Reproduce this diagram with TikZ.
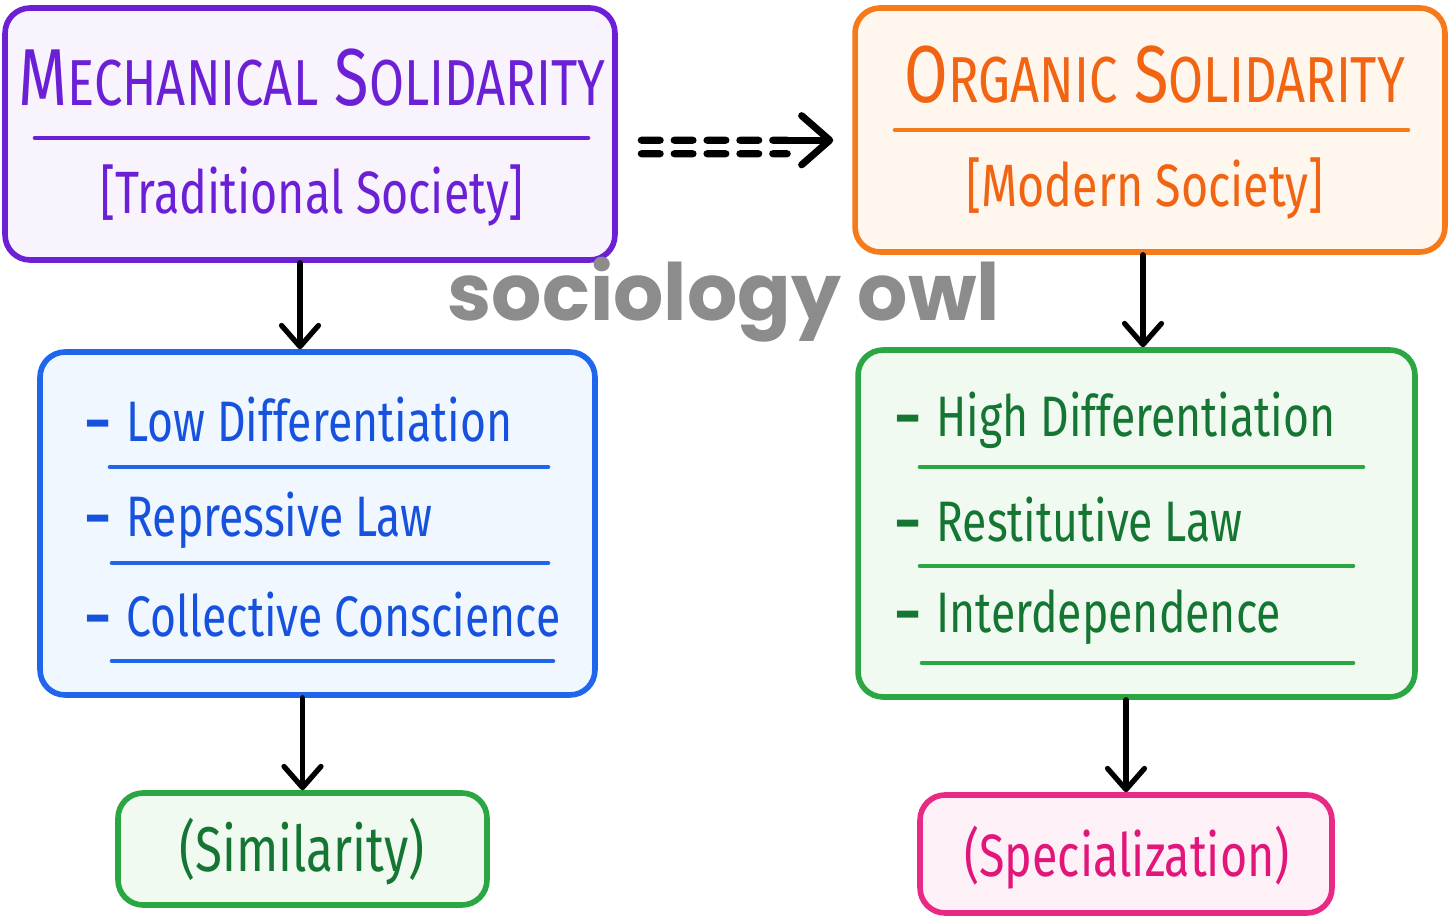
\documentclass[tikz,border=0pt]{standalone}
\usepackage{fontspec}
\setmainfont{Fira Sans}[FakeStretch=0.78]
\newfontfamily\owlfont{Poppins}
\usetikzlibrary{arrows.meta}

\definecolor{mechline}{RGB}{108,32,214}
\definecolor{mechfill}{RGB}{249,243,253}
\definecolor{orgline}{RGB}{247,122,26}
\definecolor{orgtext}{RGB}{240,100,18}
\definecolor{orgfill}{RGB}{255,246,237}
\definecolor{lowline}{RGB}{32,102,236}
\definecolor{lowtext}{RGB}{22,82,222}
\definecolor{lowfill}{RGB}{240,247,255}
\definecolor{highline}{RGB}{42,166,66}
\definecolor{hightext}{RGB}{20,118,50}
\definecolor{highfill}{RGB}{241,250,241}
\definecolor{specline}{RGB}{232,42,132}
\definecolor{spectext}{RGB}{226,22,122}
\definecolor{specfill}{RGB}{253,240,247}
\definecolor{owlgray}{RGB}{140,140,140}

\newcommand{\headsc}[2]{{\fontsize{46}{50}\selectfont #1}{\fontsize{37}{40}\selectfont #2}}
\newcommand{\itemdash}{{\bfseries –}\hspace{0.3em}}

\tikzset{
  box/.style={draw, rounded corners=0.5cm, line width=3.2pt, inner sep=0pt},
  title/.style={font=\fontsize{46}{50}\selectfont},
  sub/.style={font=\fontsize{34}{40}\selectfont},
  item/.style={anchor=west, font=\fontsize{32.5}{40}\selectfont},
  rule/.style={line width=2.6pt, line cap=round},
  arr/.style={line width=3pt, line cap=round, -{Straight Barb[round, length=12pt, width=21pt]}},
  dashline/.style={line width=4pt, line cap=round, dash pattern=on 10.8pt off 7.9pt},
}

\begin{document}
\begin{tikzpicture}[x=0.02cm, y=-0.02cm]
  \useasboundingbox[fill=white] (0,0) rectangle (1450,918);

  % Define boxes
  \node[box, draw=mechline, fill=mechfill, minimum width=12.2cm, minimum height=5.04cm] (mech) at (310,134) {};
  \node[box, draw=orgline, fill=orgfill, minimum width=11.8cm, minimum height=4.88cm] (org) at (1150,130) {};
  \node[box, draw=lowline, fill=lowfill, minimum width=11.1cm, minimum height=6.86cm] (low) at (317.5,523.5) {};
  \node[box, draw=highline, fill=highfill, minimum width=11.14cm, minimum height=6.94cm] (high) at (1136.5,523.5) {};
  \node[box, draw=highline, fill=highfill, minimum width=7.38cm, minimum height=2.24cm] (sim) at (302.5,849) {};
  \node[box, draw=specline, fill=specfill, minimum width=8.24cm, minimum height=2.36cm] (spec) at (1126,854) {};

  % Headings
  \node[title, text=mechline] (mechtitle) at (312,78) {\headsc{M}{ECHANICAL} \headsc{S}{OLIDARITY}};
  \draw[rule, mechline] (35,138) -- (588,138);
  \node[sub, text=mechline] (mechsub) at (312,195) {[Traditional Society]};
  \node[title, text=orgtext] (orgtitle) at (1155,75) {\headsc{O}{RGANIC} \headsc{S}{OLIDARITY}};
  \draw[rule, orgline] (895,130) -- (1408,130);
  \node[sub, text=orgtext] (orgsub) at (1145,188) {[Modern Society]};

  % Lists
  \node[item, text=lowtext] (lowa) at (80,420) {\itemdash Low Differentiation};
  \draw[rule, lowline] (110,467) -- (548,467);
  \node[item, text=lowtext] (lowb) at (80,520) {\itemdash Repressive Law};
  \draw[rule, lowline] (112,563) -- (548,563);
  \node[item, text=lowtext] (lowc) at (80,615) {\itemdash Collective Conscience};
  \draw[rule, lowline] (112,661) -- (553,661);
  \node[item, text=hightext] (higha) at (890,420) {\itemdash High Differentiation};
  \draw[rule, highline] (920,467) -- (1363,467);
  \node[item, text=hightext] (highb) at (890,520) {\itemdash Restitutive Law};
  \draw[rule, highline] (920,566) -- (1353,566);
  \node[item, text=hightext] (highc) at (890,617) {\itemdash Interdependence};
  \draw[rule, highline] (922,663) -- (1353,663);

  % Outcomes
  \node[sub, text=hightext, font=\fontsize{36}{40}\selectfont] (simtext) at (302,852) {(Similarity)};
  \node[sub, text=spectext] (spectext) at (1127,858) {(Specialization)};

  % Watermark
  \node[text=owlgray, font=\owlfont\bfseries\fontsize{45}{50}\selectfont] (owl) at (724,300) {sociology owl};

  % Draw arrows
  \draw[arr] ([xshift=-0.2cm]mech.south) -- ([xshift=-0.2cm]mech.south |- low.north);
  \draw[arr] ([xshift=-0.14cm]org.south) -- ([xshift=-0.14cm]org.south |- high.north);
  \draw[arr] (sim.north |- low.south) -- (sim.north);
  \draw[arr] (spec.north |- high.south) -- (spec.north);

  % Double dashed arrow
  \coordinate (dashstart) at ([xshift=0.47cm, yshift=-0.26cm]mech.east);
  \coordinate (dashend) at ([xshift=-1.3cm, yshift=-0.34cm]org.west);
  \foreach \dy in {-0.135,0.135}
    \draw[dashline] ([yshift=\dy cm]dashstart) -- ([yshift=\dy cm]dashend);
  \draw[arr, line width=4pt, -{Straight Barb[round, length=16pt, width=28pt]}]
    ([yshift=0.135cm]dashend) -- ([xshift=0.92cm, yshift=0.135cm]dashend);
\end{tikzpicture}
\end{document}
